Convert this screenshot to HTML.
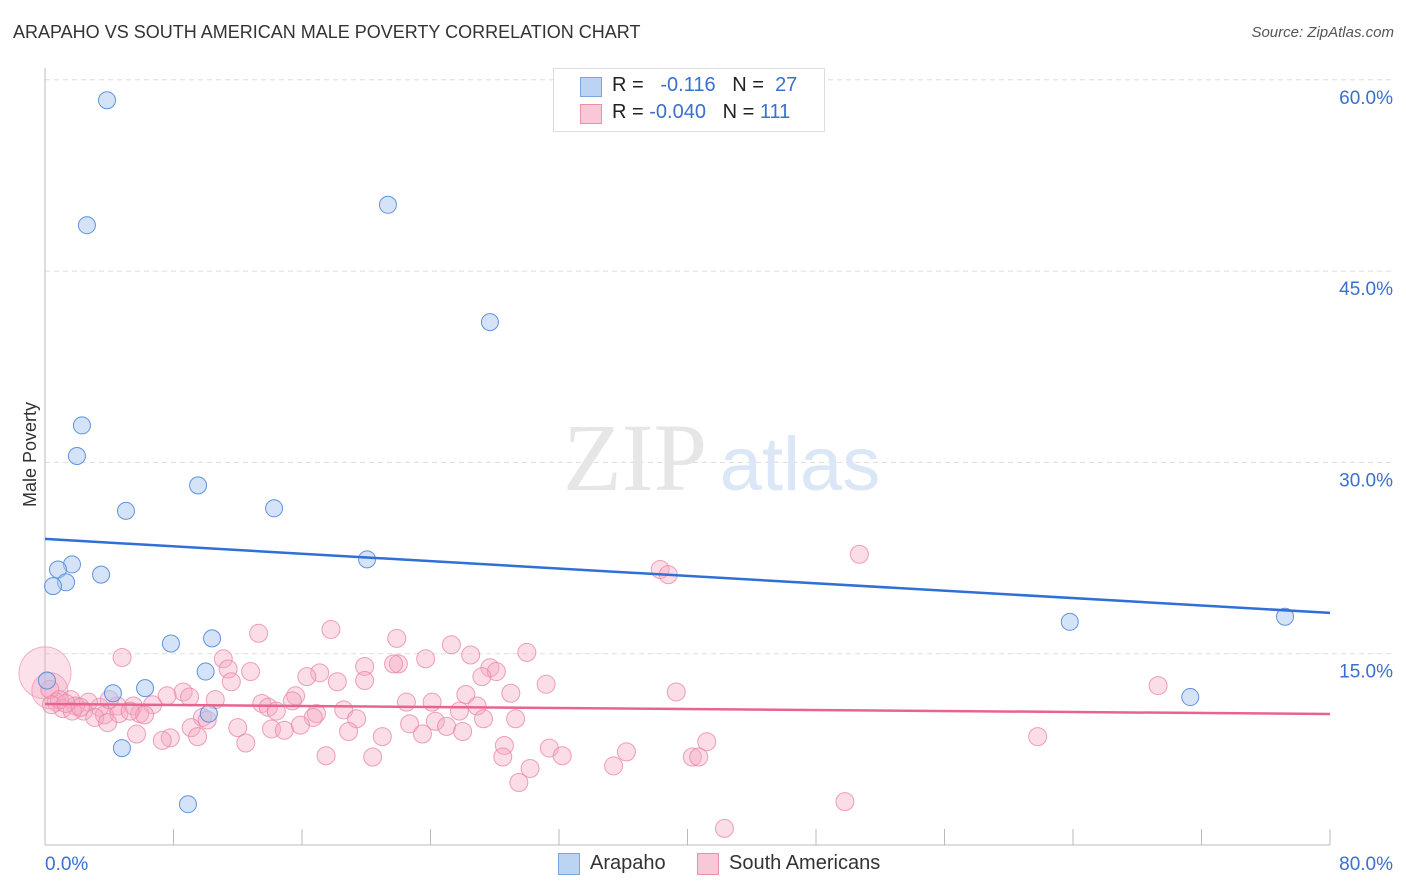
<!DOCTYPE html>
<html><head><meta charset="utf-8">
<style>
body{margin:0;background:#fff;font-family:"Liberation Sans",sans-serif;}
#wrap{position:relative;width:1406px;height:892px;overflow:hidden;}
.t{position:absolute;white-space:nowrap;}
</style></head>
<body>
<div id="wrap">
<div class="t" style="left:13px;top:22px;font-size:18px;color:#333;">ARAPAHO VS SOUTH AMERICAN MALE POVERTY CORRELATION CHART</div>
<div class="t" style="right:12px;top:24px;font-size:15px;color:#555;font-style:italic;">Source: ZipAtlas.com</div>
<div class="t" style="left:-22px;top:444px;font-size:18px;color:#333;transform:rotate(-90deg);">Male Poverty</div>
<svg id="chart" width="1406" height="892" style="position:absolute;left:0;top:0"></svg>
<div style="position:absolute;left:553px;top:68px;width:270px;height:62px;border:1px solid #ddd;background:#fff;font-size:20px;color:#222;">
  <div style="position:absolute;left:26px;top:8px;width:20px;height:18px;background:#bcd4f4;border:1px solid #7aa6e0;"></div>
  <div class="t" style="left:58px;top:5px;">R = &nbsp;&nbsp;<span style="color:#3a70d0">-0.116</span>&nbsp;&nbsp;&nbsp;N = &nbsp;<span style="color:#3a70d0">27</span></div>
  <div style="position:absolute;left:26px;top:35px;width:20px;height:18px;background:#f9c8d6;border:1px solid #ea90ab;"></div>
  <div class="t" style="left:58px;top:32px;">R = <span style="color:#3a70d0">-0.040</span>&nbsp;&nbsp;&nbsp;N = <span style="color:#3a70d0">111</span></div>
</div>
<div style="position:absolute;left:558px;top:852px;font-size:20px;color:#333;">
  <div style="position:absolute;left:0;top:1px;width:20px;height:20px;background:#bcd4f4;border:1px solid #7aa6e0;"></div>
  <div class="t" style="left:32px;top:0;">Arapaho</div>
  <div style="position:absolute;left:139px;top:1px;width:20px;height:20px;background:#f9c8d6;border:1px solid #ea90ab;"></div>
  <div class="t" style="left:171px;top:0;">South Americans</div>
</div>
</div>
<script>
const yTicks=[15,30,45,60];
const yTickLabels=["15.0%","30.0%","45.0%","60.0%"];
const xTickLabels=["0.0%","80.0%"];
const arapahoX=[3.86,2.61,21.35,27.7,2.3,1.99,5.04,9.53,14.26,20.05,1.68,0.81,1.31,0.5,3.49,7.84,10.4,10.0,6.23,4.23,0.12,10.2,4.79,8.9,63.8,77.2,71.3];
const arapahoY=[58.4,48.6,50.2,41.0,32.9,30.5,26.2,28.2,26.4,22.4,22.0,21.6,20.6,20.3,21.2,15.8,16.2,13.6,12.3,11.9,12.9,10.3,7.6,3.2,17.5,17.9,11.6];
const southX=[38.3,38.8,50.7,17.8,13.3,21.9,25.3,4.8,26.5,30.0,11.1,12.8,11.4,17.1,19.9,22.0,21.7,23.7,27.7,28.1,27.2,16.3,18.2,19.9,11.6,31.2,39.3,69.3,8.6,7.6,9.0,10.6,15.6,15.4,13.5,13.9,22.5,24.1,26.2,29.0,26.9,25.8,18.6,16.9,16.7,14.4,19.4,9.8,10.1,5.5,4.5,3.4,2.7,1.6,0.7,1.1,2.4,1.9,3.7,4.6,5.9,6.7,6.2,5.3,3.1,3.9,12.0,14.1,15.9,22.7,24.3,25.0,27.3,29.3,26.0,23.5,21.0,18.9,14.9,9.1,7.8,5.7,7.3,9.5,12.5,28.6,31.4,32.2,36.2,41.2,61.8,17.5,20.4,28.5,35.4,40.3,40.7,30.2,29.5,49.8,42.3,0.3,0.9,0.4,1.7,2.2,1.3,4.0];
const southY=[21.6,21.2,22.8,16.9,16.6,16.2,15.7,14.7,14.9,15.1,14.6,13.6,13.8,13.5,14.0,14.2,14.2,14.6,13.9,13.6,13.2,13.2,12.8,12.9,12.8,12.6,12.0,12.5,12.0,11.7,11.6,11.4,11.7,11.3,11.1,10.8,11.2,11.2,11.8,11.9,10.9,10.5,10.6,10.3,10.0,10.5,9.9,10.0,9.8,10.9,10.9,10.8,11.2,11.4,11.2,10.7,10.5,10.9,10.2,10.3,10.3,11.0,10.2,10.5,10.0,9.6,9.2,9.1,9.4,9.5,9.7,9.3,9.9,9.9,8.9,8.7,8.5,8.9,9.0,9.2,8.4,8.7,8.2,8.5,8.0,7.8,7.6,7.0,7.3,8.1,8.5,7.0,6.9,6.9,6.2,6.9,6.9,6.0,4.9,3.4,1.3,12.2,11.4,11.0,10.5,10.8,11.1,11.4];
const bigX=[0,0.3];
const bigY=[13.5,12.1];
const bigR=[26,18];
const blueTrend=[24.0,18.2];
const pinkTrend=[11.06,10.27];

const svg=document.getElementById('chart');
const NS='http://www.w3.org/2000/svg';
const x0=45,x1=1330,yb=845,pxPer=191.3/15;
const sx=v=>x0+v/80*(x1-x0);
const sy=v=>yb-v*pxPer;
function mk(tag,attrs){const e=document.createElementNS(NS,tag);for(const k in attrs)e.setAttribute(k,attrs[k]);svg.appendChild(e);return e;}

yTicks.forEach((t,i)=>{
  const g=mk('line',{x1:x0,x2:1393,y1:sy(t),y2:sy(t),stroke:'#ddd','stroke-dasharray':'5,4'});
  
  
  const l=mk('text',{x:1393,y:sy(t)+24,'text-anchor':'end','font-size':19,fill:'#3a70d0','font-family':'Liberation Sans, sans-serif'});
  l.textContent=yTickLabels[i];
  
  
});
const ax=mk('line',{x1:x0,x2:x0,y1:68,y2:yb,stroke:'#bbb'});


const bx=mk('line',{x1:x0,x2:x1,y1:yb,y2:yb,stroke:'#bbb'});


for(let i=0;i<=10;i++){
  const tk=mk('line',{x1:sx(i*8),x2:sx(i*8),y1:yb-16,y2:yb,stroke:'#bbb'});
  
  
}
[0,80].forEach((v,i)=>{
  const l=mk('text',{x:i?1393:45,y:870,'text-anchor':i?'end':'start','font-size':19,fill:'#3a70d0','font-family':'Liberation Sans, sans-serif'});
  l.textContent=xTickLabels[i];
  
  
});
const w1=mk('text',{x:635,y:490,'text-anchor':'middle','font-size':96,fill:'#e6e6e6','font-family':'Liberation Serif, serif'});
w1.textContent='ZIP';


const w2=mk('text',{x:800,y:490,'text-anchor':'middle','font-size':76,fill:'#dbe6f6','font-family':'Liberation Sans, sans-serif'});
w2.textContent='atlas';



bigX.forEach((v,i)=>{
  const c=mk('circle',{cx:sx(v),cy:sy(bigY[i]),r:bigR[i],fill:'rgba(245,170,195,0.35)',stroke:'rgba(232,130,165,0.6)','stroke-width':1});
  
  
});
southX.forEach((v,i)=>{
  const c=mk('circle',{cx:sx(v),cy:sy(southY[i]),r:9,fill:'rgba(245,170,195,0.4)',stroke:'rgba(232,130,165,0.75)','stroke-width':1});
  
  
});
arapahoX.forEach((v,i)=>{
  const c=mk('circle',{cx:sx(v),cy:sy(arapahoY[i]),r:8.5,fill:'rgba(170,200,240,0.5)',stroke:'#5f93dd','stroke-width':1});
  
  
});
const bt=mk('line',{x1:sx(0),y1:sy(blueTrend[0]),x2:sx(80),y2:sy(blueTrend[1]),stroke:'#2f6fd6','stroke-width':2.5});


const pt=mk('line',{x1:sx(0),y1:sy(pinkTrend[0]),x2:sx(80),y2:sy(pinkTrend[1]),stroke:'#e8648f','stroke-width':2.5});


</script>
</body></html>
